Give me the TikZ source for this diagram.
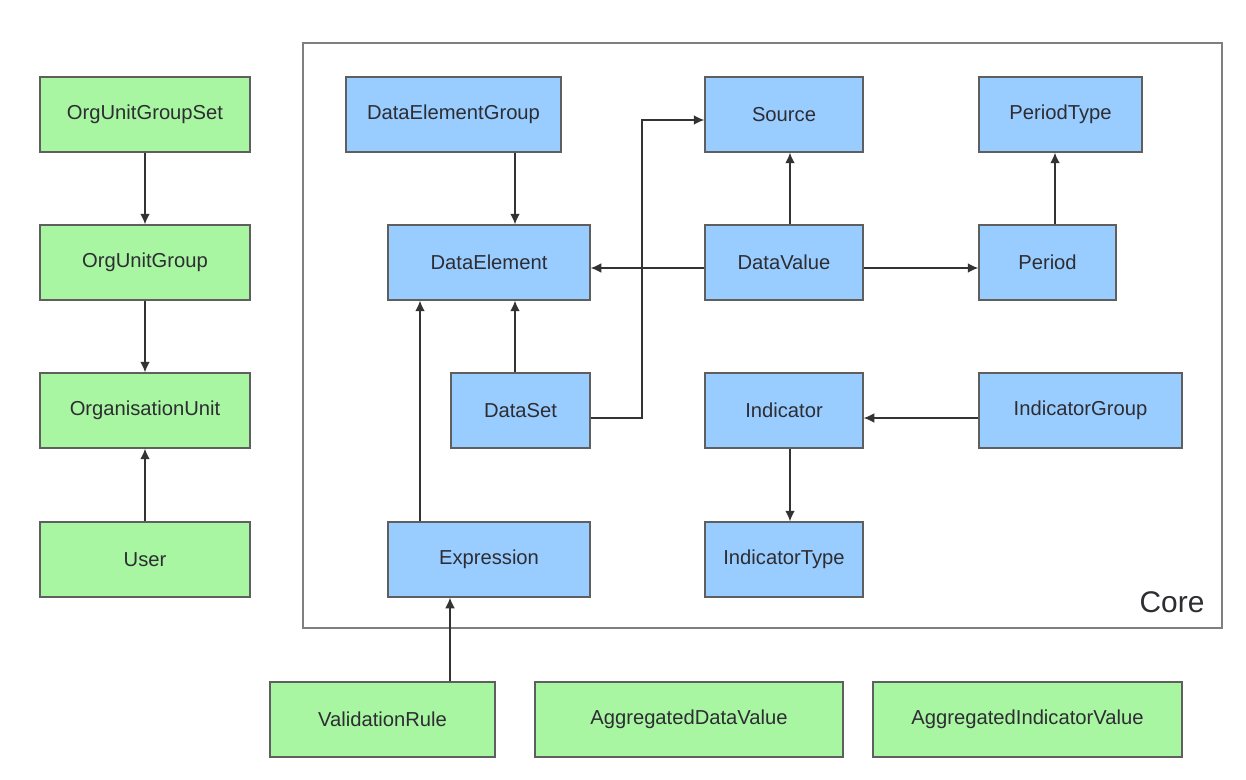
\documentclass[tikz,border=0pt]{standalone}
\usepackage{fontspec}
\setmainfont{Liberation Sans}
\usetikzlibrary{arrows.meta}
\definecolor{gfill}{RGB}{168,245,162}
\definecolor{bfill}{RGB}{153,204,255}
\definecolor{bord}{RGB}{95,95,95}
\definecolor{txt}{RGB}{45,45,50}
\newcommand{\bx}[7]{\node[#7, minimum width={(#4-#2)*0.02cm}, minimum height={(#5-#3)*0.02cm}] (#1) at ({(#2+#4)/2},{(#3+#5)/2}) {#6};}
\begin{document}
\begin{tikzpicture}[x=0.02cm,y=-0.02cm,
  box/.style={draw=bord, line width=0.8pt, inner sep=0pt, text=txt, font=\fontsize{11.5}{13}\selectfont},
  gbox/.style={box, fill=gfill},
  bbox/.style={box, fill=bfill},
  arr/.style={draw=black!80, line width=0.75pt, -{Latex[length=6pt,width=5.5pt]}}]
\useasboundingbox[fill=white] (0,0) rectangle (1246,780);
% core frame
\draw[draw=bord!80, line width=0.8pt] (303,43) rectangle (1222,628);
\node[font=\fontsize{17}{19}\selectfont, text=txt] (core) at (1172,602) {Core};
% left column
\bx{ougs}{40}{77}{250}{152}{OrgUnitGroupSet}{gbox}
\bx{oug}{40}{225}{250}{300}{OrgUnitGroup}{gbox}
\bx{ou}{40}{373}{250}{448}{OrganisationUnit}{gbox}
\bx{usr}{40}{522}{250}{597}{User}{gbox}
% core boxes
\bx{deg}{346}{77}{561}{152}{DataElementGroup}{bbox}
\bx{src}{705}{77}{863}{152}{Source}{bbox}
\bx{pt}{979}{77}{1142}{152}{PeriodType}{bbox}
\bx{de}{388}{225}{590}{300}{DataElement}{bbox}
\bx{dv}{705}{225}{863}{300}{DataValue}{bbox}
\bx{per}{979}{225}{1116}{300}{Period}{bbox}
\bx{ds}{451}{373}{590}{448}{DataSet}{bbox}
\bx{ind}{705}{373}{863}{448}{Indicator}{bbox}
\bx{ig}{979}{373}{1182}{448}{IndicatorGroup}{bbox}
\bx{expr}{388}{522}{590}{597}{Expression}{bbox}
\bx{it}{705}{522}{863}{597}{IndicatorType}{bbox}
% bottom row
\bx{vr}{270}{682}{495}{757}{ValidationRule}{gbox}
\bx{adv}{535}{682}{843}{757}{AggregatedDataValue}{gbox}
\bx{aiv}{873}{682}{1182}{757}{AggregatedIndicatorValue}{gbox}
% helper coordinates
\coordinate (xds) at (515,0);
\coordinate (xpt) at (1055,0);
\coordinate (xsrc) at (790,0);
\coordinate (xex) at (420,0);
\coordinate (xvr) at (450,0);
\coordinate (xj) at (642,0);
\coordinate (yds) at (0,418);
\coordinate (ysrc) at (0,120);
\coordinate (ydv) at (0,268);
% connectors
\draw[arr] (ougs) -- (oug);
\draw[arr] (oug) -- (ou);
\draw[arr] (usr) -- (ou);
\draw[arr] (deg.south -| xds) -- (de.north -| xds);
\draw[arr] (ds.north -| xds) -- (de.south -| xds);
\draw[arr] (dv.north -| xsrc) -- (src.south -| xsrc);
\draw[arr] (per.north -| xpt) -- (pt.south -| xpt);
\draw[arr] (dv.west |- ydv) -- (de.east |- ydv);
\draw[arr] (dv.east |- ydv) -- (per.west |- ydv);
\draw[arr] (ds.east |- yds) -- (xj |- yds) -- (xj |- ysrc) -- (src.west |- ysrc);
\draw[arr] (ig.west |- yds) -- (ind.east |- yds);
\draw[arr] (ind.south -| xsrc) -- (it.north -| xsrc);
\draw[arr] (expr.north -| xex) -- (de.south -| xex);
\draw[arr] (vr.north -| xvr) -- (expr.south -| xvr);
\end{tikzpicture}
\end{document}
